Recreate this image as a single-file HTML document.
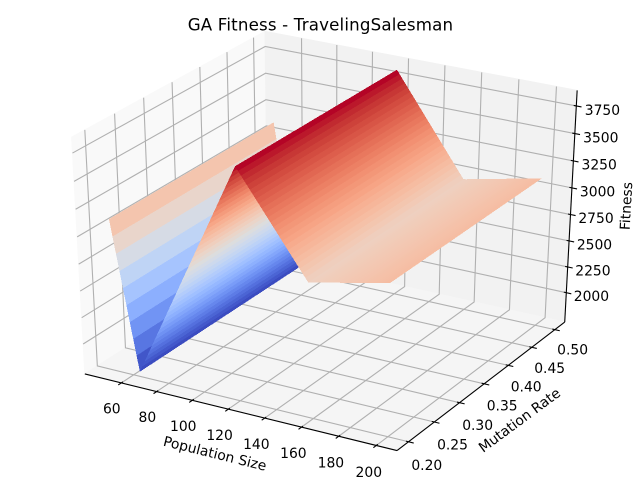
<!DOCTYPE html>
<html lang="en">
<head>
<meta charset="utf-8">
<title>GA Fitness - TravelingSalesman</title>
<style>
html,body{margin:0;padding:0;background:#fff;width:640px;height:480px;overflow:hidden}
svg{display:block}
text{font-family:"DejaVu Sans","Liberation Sans",sans-serif;fill:#000}
</style>
</head>
<body>
<svg id="chart" xmlns="http://www.w3.org/2000/svg" width="640" height="480" viewBox="0 0 640 480">
  <rect width="640" height="480" fill="#fff"/>
  <g id="panes"></g>
  <g id="grid" fill="none" stroke="#b0b0b0" stroke-width="1.1"></g>
  <g id="axes" fill="none" stroke="#000" stroke-width="1.1"></g>
  <g id="ticks" stroke="#000" stroke-width="1.1"></g>
  <g id="surface" shape-rendering="crispEdges"></g>
  <g id="tick-labels" font-size="13.89" text-anchor="middle"></g>
  <text x="320.5" y="30.5" font-size="16.67" letter-spacing="0.17" text-anchor="middle">GA Fitness - TravelingSalesman</text>
  <text font-size="13.89" text-anchor="middle" transform="translate(215 453.3) rotate(13.9)" y="5">Population Size</text>
  <text font-size="13.89" text-anchor="middle" transform="translate(519.3 420) rotate(-36.5)" y="5">Mutation Rate</text>
  <text font-size="13.89" text-anchor="middle" transform="translate(626 206) rotate(-86.8)" y="5">Fitness</text>
</svg>
<script>
// Chart data
var populationSizes = [50, 63.6, 119.7, 157.6, 200];
var mutationRates = [0.2, 0.5];
var fitnessValues = [3133, 1755, 3846, 2960, 3117];
var xTicks = [60, 80, 100, 120, 140, 160, 180, 200];
var yTicks = [0.20, 0.25, 0.30, 0.35, 0.40, 0.45, 0.50];
var zTicks = [2000, 2250, 2500, 2750, 3000, 3250, 3500, 3750];

// Rendering constants
var BAND_COUNT = 99;
var NS = 'http://www.w3.org/2000/svg';
var COOLWARM = [[59,76,192],[68,90,204],[77,104,215],[87,117,225],[98,130,234],[108,142,241],[119,154,247],[130,165,251],[141,176,254],[152,185,255],[163,194,255],[174,201,253],[184,208,249],[194,213,244],[204,217,238],[213,219,230],[221,221,221],[229,216,209],[236,211,197],[241,204,185],[244,196,173],[246,187,160],[247,177,148],[247,166,135],[244,154,123],[241,141,111],[236,127,99],[229,112,88],[222,96,77],[213,80,66],[203,62,56],[192,40,47],[180,4,38]];

function minOf(a){return Math.min.apply(null,a);}
function maxOf(a){return Math.max.apply(null,a);}
var xMin = minOf(populationSizes), xMax = maxOf(populationSizes);
var yMin = minOf(mutationRates), yMax = maxOf(mutationRates);
var xLim = [xMin-0.05*(xMax-xMin), xMax+0.05*(xMax-xMin)];
var yLim = [yMin-0.05*(yMax-yMin), yMax+0.05*(yMax-yMin)];
var zLim = [minOf(fitnessValues), maxOf(fitnessValues)];

function xWorld(v){return (v-xLim[0])/(xLim[1]-xLim[0]);}
function yWorld(v){return (v-yLim[0])/(yLim[1]-yLim[0]);}
function zWorld(v){return (v-zLim[0])/(zLim[1]-zLim[0]);}

// matplotlib mplot3d projection: elev 30, azim -60, dist 10
function project(wx,wy,wz){
  var dx=wx-0.5, dy=wy-0.5, dz=wz-0.5;
  var u=0.8660254*dx+0.5*dy;
  var v=-0.25*dx+0.4330127*dy+0.8660254*dz;
  var w=10-(0.4330127*dx-0.75*dy+0.5*dz);
  return [640*(u/w+0.095)/0.185, 480-480*(v/w+0.095)/0.185];
}
function pathOf(points){
  return points.map(function(p,i){
    var q=project(p[0],p[1],p[2]);
    return (i?'L':'M')+q[0].toFixed(2)+' '+q[1].toFixed(2);
  }).join('');
}
var LO=-1/48, HI=49/48;

function coolwarm(t){
  t=Math.max(0,Math.min(1,t));
  var f=t*(COOLWARM.length-1), i=Math.min(Math.floor(f),COOLWARM.length-2), r=f-i;
  var c=[0,1,2].map(function(k){return Math.round(COOLWARM[i][k]+(COOLWARM[i+1][k]-COOLWARM[i][k])*r);});
  return 'rgb('+c.join(',')+')';
}
function fitnessAt(x){
  for(var i=0;i<populationSizes.length-1;i++){
    if(x<=populationSizes[i+1]){
      var r=(x-populationSizes[i])/(populationSizes[i+1]-populationSizes[i]);
      return fitnessValues[i]+(fitnessValues[i+1]-fitnessValues[i])*r;
    }
  }
  return fitnessValues[fitnessValues.length-1];
}

// Panes
var panesG=document.getElementById('panes');
var paneDefs=[
  ['pane-left','#f9f9f9',[[LO,LO,LO],[LO,LO,HI],[LO,HI,HI],[LO,HI,LO]]],
  ['pane-back','#f2f2f2',[[LO,HI,LO],[LO,HI,HI],[HI,HI,HI],[HI,HI,LO]]],
  ['pane-floor','#f5f5f5',[[LO,LO,LO],[HI,LO,LO],[HI,HI,LO],[LO,HI,LO]]]
];
paneDefs.forEach(function(d){
  var el=document.createElementNS(NS,'path');
  el.setAttribute('d',pathOf(d[2])+'Z');
  el.setAttribute('fill',d[1]);
  el.setAttribute('stroke',d[1]);
  
  
  panesG.appendChild(el);
});

// Grid lines
var gridG=document.getElementById('grid');
function addGrid(points,name){
  var el=document.createElementNS(NS,'path');
  el.setAttribute('d',pathOf(points));
  
  
  gridG.appendChild(el);
}
xTicks.forEach(function(v){
  var t=xWorld(v);
  addGrid([[t,LO,LO],[t,HI,LO],[t,HI,HI]],'x-grid-line');
});
yTicks.forEach(function(v){
  var t=yWorld(v);
  addGrid([[HI,t,LO],[LO,t,LO],[LO,t,HI]],'y-grid-line');
});
zTicks.forEach(function(v){
  var t=zWorld(v);
  addGrid([[HI,HI,t],[LO,HI,t],[LO,LO,t]],'z-grid-line');
});

// Axis lines
var axesG=document.getElementById('axes');
[['x-axis-line',[[LO,LO,LO],[HI,LO,LO]]],['y-axis-line',[[HI,LO,LO],[HI,HI,LO]]],['z-axis-line',[[HI,HI,LO],[HI,HI,HI]]]].forEach(function(d){
  var el=document.createElementNS(NS,'path');
  el.setAttribute('d',pathOf(d[1]));
  
  
  axesG.appendChild(el);
});

// Ticks and labels
var ticksG=document.getElementById('ticks');
var labelsG=document.getElementById('tick-labels');
var OUT=1/60, IN=1/120;
function addTick(a,b,name){
  var el=document.createElementNS(NS,'path');
  el.setAttribute('d',pathOf([a,b]));
  
  
  ticksG.appendChild(el);
}
function addLabel(anchor,ox,oy,text,name){
  var p=project(anchor[0],anchor[1],anchor[2]);
  var el=document.createElementNS(NS,'text');
  el.setAttribute('x',(p[0]+ox).toFixed(2));
  el.setAttribute('y',(p[1]+oy+5).toFixed(2));
  
  
  el.textContent=text;
  labelsG.appendChild(el);
}
xTicks.forEach(function(v,i){
  var t=xWorld(v), f=i/(xTicks.length-1);
  addTick([t,LO-OUT,LO],[t,LO+IN,LO],'x-tick');
  addLabel([t,LO,LO],-9.6+2.1*f,25.4+0.9*f,String(v),'x-tick-label');
});
yTicks.forEach(function(v,i){
  var t=yWorld(v), f=i/(yTicks.length-1);
  addTick([HI+OUT,t,LO],[HI-IN,t,LO],'y-tick');
  addLabel([HI,t,LO],18.3-0.5*f,23.3-3.4*f,v.toFixed(2),'y-tick-label');
});
zTicks.forEach(function(v,i){
  var t=zWorld(v), f=i/(zTicks.length-1);
  addTick([HI+OUT,HI,t],[HI-IN,HI,t],'z-tick');
  addLabel([HI,HI,t],25.1+1.0*f,3.3+0.7*f,String(v),'z-tick-label');
});

// Surface: strips run along the mutation-rate axis, painted back to front in x
var surfaceG=document.getElementById('surface');
var bandEdges=[];
for(var e=0;e<=BAND_COUNT;e++){bandEdges.push(xMin+(xMax-xMin)*e/BAND_COUNT);}
var bandMeans=[];
for(var b=0;b<BAND_COUNT;b++){bandMeans.push((fitnessAt(bandEdges[b])+fitnessAt(bandEdges[b+1]))/2);}
var meanMin=minOf(bandMeans), meanMax=maxOf(bandMeans);
var y0=yWorld(mutationRates[0]), y1=yWorld(mutationRates[mutationRates.length-1]);
bandMeans.forEach(function(m,b){
  var xa=xWorld(bandEdges[b]), xb=xWorld(bandEdges[b+1]);
  var za=zWorld(fitnessAt(bandEdges[b])), zb=zWorld(fitnessAt(bandEdges[b+1]));
  var el=document.createElementNS(NS,'path');
  el.setAttribute('d',pathOf([[xa,y0,za],[xb,y0,zb],[xb,y1,zb],[xa,y1,za]])+'Z');
  el.setAttribute('fill',coolwarm((m-meanMin)/(meanMax-meanMin)));
  
  
  surfaceG.appendChild(el);
});
</script>
</body>
</html>
